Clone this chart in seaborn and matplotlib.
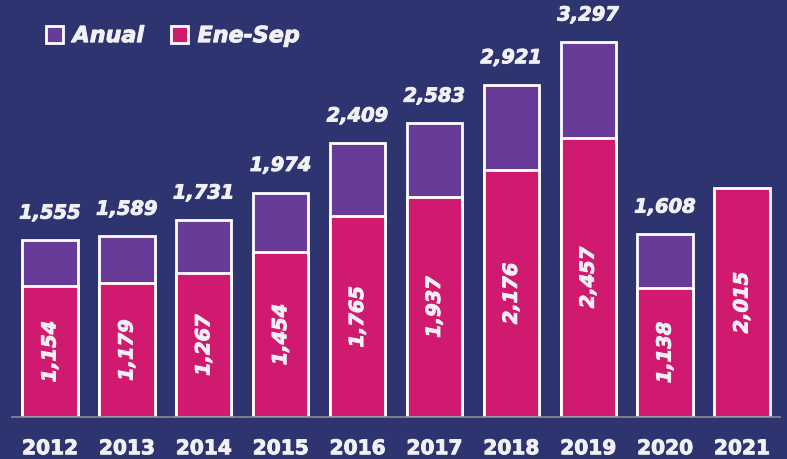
import matplotlib
matplotlib.use("Agg")
import matplotlib.pyplot as plt
import matplotlib.patheffects as pe
import seaborn as sns
import numpy as np
import pandas as pd
from matplotlib.patches import Patch

years = ["2012", "2013", "2014", "2015", "2016", "2017", "2018", "2019", "2020", "2021"]
anual = [1555, 1589, 1731, 1974, 2409, 2583, 2921, 3297, 1608, np.nan]
ene_sep = [1154, 1179, 1267, 1454, 1765, 1937, 2176, 2457, 1138, 2015]

BG = "#2d3470"
PURPLE = "#673b97"
MAGENTA = "#d01a6f"
TEXT = "#f0f0f5"
heavy = [pe.withStroke(linewidth=0.7, foreground=TEXT)]

sns.set_theme(style="white")
plt.rcParams["font.family"] = ["DejaVu Sans"]

df = pd.DataFrame({"year": years, "anual": anual, "ene_sep": ene_sep})

fig = plt.figure(figsize=(7.87, 4.60), dpi=100, facecolor=BG)
ax = fig.add_axes([11.6 / 787, 42 / 460, 768.8 / 787, 418 / 460])
ax.set_facecolor(BG)

sns.barplot(data=df, x="year", y="anual", color=PURPLE, saturation=1,
            width=0.72, edgecolor="white", linewidth=2, ax=ax, zorder=2)
sns.barplot(data=df, x="year", y="ene_sep", color=MAGENTA, saturation=1,
            width=0.72, edgecolor="white", linewidth=2, ax=ax, zorder=3)

ax.set_xlim(-0.5, len(years) - 0.5)
ax.set_ylim(0, 3676)

for i, (a, e) in enumerate(zip(anual, ene_sep)):
    if not np.isnan(a):
        ax.annotate(f"{int(a):,}", (i, a), xytext=(0, 19.5), textcoords="offset points",
                    ha="center", va="center", color=TEXT, fontsize=14,
                    fontweight="bold", fontstyle="oblique", zorder=5, path_effects=heavy)
    ax.text(i, e / 2, f"{int(e):,}", rotation=90, ha="center", va="center",
            color=TEXT, fontsize=14, fontweight="bold", fontstyle="oblique", zorder=5,
            path_effects=heavy)

for s in ["top", "right", "left"]:
    ax.spines[s].set_visible(False)
ax.spines["bottom"].set_color("#8a8a96")
ax.spines["bottom"].set_linewidth(1.2)
ax.spines["bottom"].set_zorder(4)
ax.set_yticks([])
ax.set_xlabel("")
ax.set_ylabel("")
ax.tick_params(axis="x", length=0, pad=16, labelsize=14.5, labelcolor=TEXT)
for lbl in ax.get_xticklabels():
    lbl.set_fontweight("bold")
    lbl.set_path_effects(heavy)
ax.set_xticks(np.arange(-0.5, len(years), 1.0), minor=True)
ax.tick_params(axis="x", which="minor", length=2, width=1, color="#8a8a96", direction="out")

handles = [Patch(facecolor=PURPLE, edgecolor="white", linewidth=2, label="Anual"),
           Patch(facecolor=MAGENTA, edgecolor="white", linewidth=2, label="Ene-Sep")]
leg = fig.legend(handles=handles, loc="upper left", bbox_to_anchor=(37 / 787, 1 - 18 / 460),
                 ncol=2, frameon=False, handlelength=0.75, handleheight=0.8,
                 handletextpad=0.45, columnspacing=1.2, borderaxespad=0,
                 prop={"size": 16, "weight": "bold", "style": "oblique"})
for t in leg.get_texts():
    t.set_color(TEXT)
    t.set_path_effects(heavy)

fig.savefig("out.png", dpi=100, facecolor=BG)
